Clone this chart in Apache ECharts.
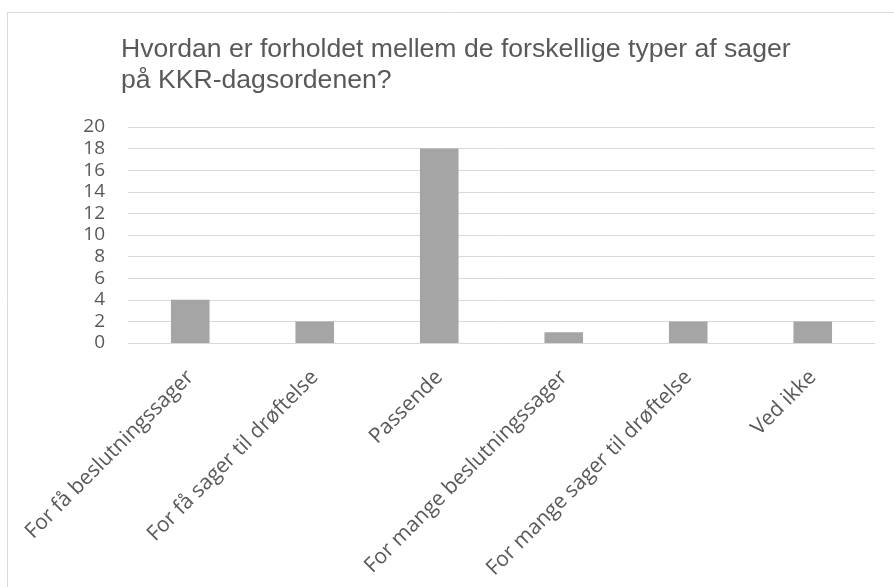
<!DOCTYPE html>
<html>
<head>
<meta charset="utf-8">
<script src="https://cdn.jsdelivr.net/npm/echarts@6/dist/echarts.min.js"></script>
<style>
html, body { margin: 0; padding: 0; background: #fff; }
#chart { width: 894px; height: 587px; }
</style>
</head>
<body>
<div id="chart"></div>
<script>
var categories = ["For få beslutningssager", "For få sager til drøftelse", "Passende", "For mange beslutningssager", "For mange sager til drøftelse", "Ved ikke"];
var values = [4, 2, 18, 1, 2, 2];
var yTicks = { min: 0, max: 20, interval: 2 };
var titleText = "Hvordan er forholdet mellem de forskellige typer af sager\npå KKR-dagsordenen?";

var chart = echarts.init(document.getElementById("chart"));
var option = {
    backgroundColor: "#ffffff",
    animation: false,
    title: {
        text: titleText,
        left: 116,
        top: 29,
        textStyle: {
            fontFamily: "Liberation Sans",
            fontSize: 26.6,
            fontWeight: "normal",
            color: "#595959",
            lineHeight: 31
        }
    },
    graphic: [
        { type: "line", shape: { x1: 7, y1: 12.5, x2: 894, y2: 12.5 }, style: { stroke: "#d9d9d9", lineWidth: 1 } },
        { type: "line", shape: { x1: 7.5, y1: 12, x2: 7.5, y2: 587 }, style: { stroke: "#d9d9d9", lineWidth: 1 } }
    ],
    grid: { left: 128, right: 19, top: 127, bottom: 244 },
    xAxis: {
        type: "category",
        data: categories,
        axisLine: { lineStyle: { color: "#d9d9d9", width: 1 } },
        axisTick: { show: false },
        axisLabel: {
            rotate: 45,
            interval: 0,
            margin: 31,
            fontFamily: "Open Sans",
            fontSize: 21,
            color: "#595959"
        }
    },
    yAxis: {
        type: "value",
        min: yTicks.min,
        max: yTicks.max,
        interval: yTicks.interval,
        axisLine: { show: false },
        axisTick: { show: false },
        splitLine: { lineStyle: { color: "#d9d9d9", width: 1 } },
        axisLabel: {
            margin: 23,
            fontFamily: "Open Sans",
            fontSize: 19,
            color: "#595959"
        }
    },
    series: [
        {
            type: "bar",
            data: values,
            barWidth: "31%",
            itemStyle: { color: "#a5a5a5" }
        }
    ]
};
chart.setOption(option);
</script>
</body>
</html>
